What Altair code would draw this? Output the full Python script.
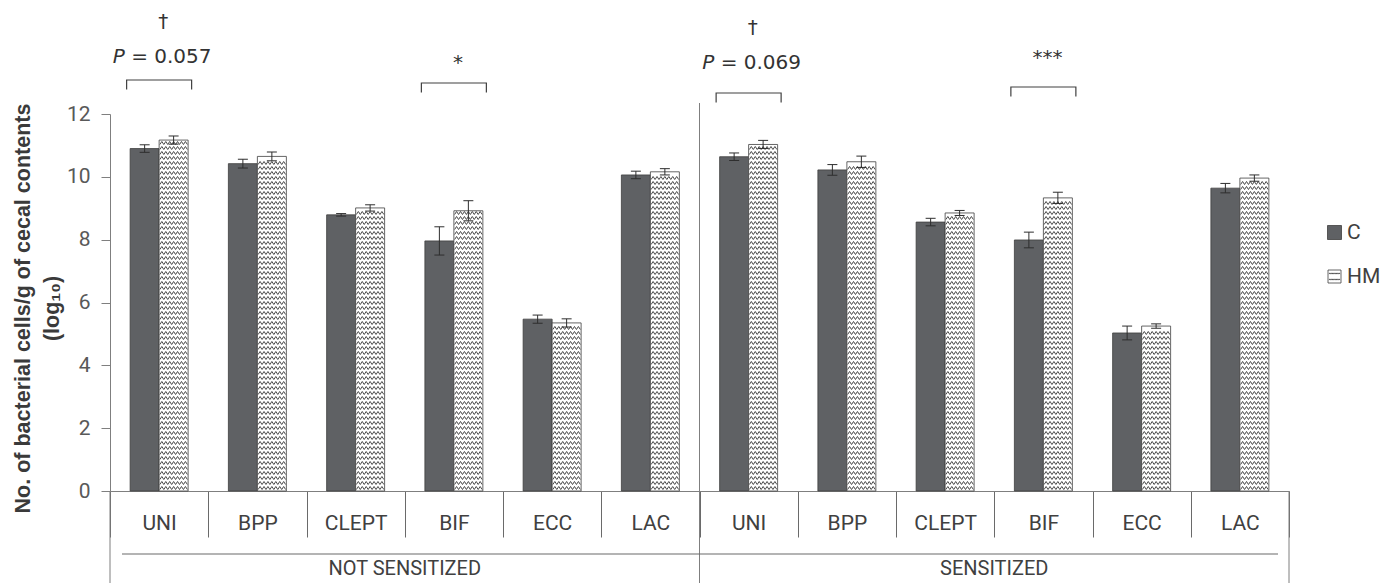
import altair as alt
import pandas as pd

# ---------------- data ----------------
groups = ["NOT SENSITIZED", "SENSITIZED"]
group_codes = ["NS", "S"]
bacteria = ["UNI", "BPP", "CLEPT", "BIF", "ECC", "LAC"]
series = ["C", "HM"]

c_ns = [10.90, 10.42, 8.79, 7.96, 5.47, 10.06]
hm_ns = [11.17, 10.65, 9.01, 8.92, 5.35, 10.16]
c_s = [10.64, 10.22, 8.56, 7.99, 5.03, 9.64]
hm_s = [11.03, 10.48, 8.85, 9.33, 5.25, 9.96]

c_ns_err = [0.12, 0.14, 0.04, 0.45, 0.13, 0.12]
hm_ns_err = [0.13, 0.14, 0.10, 0.32, 0.13, 0.10]
c_s_err = [0.12, 0.17, 0.12, 0.25, 0.22, 0.15]
hm_s_err = [0.13, 0.18, 0.08, 0.18, 0.07, 0.10]

y_ticks = [0, 2, 4, 6, 8, 10, 12]

ann_keys = ["NS|UNI", "NS|BIF", "S|UNI", "S|BIF"]
ann_symbols = ["†", "*", "†", "***"]
p_keys = ["NS|UNI", "S|UNI"]
p_texts = ["= 0.057", "= 0.069"]

y_title = ["No. of bacterial cells/g of cecal contents", "(log₁₀)"]

# ---------------- layout ----------------
W, H = 1179, 377
PAD_L, PAD_T, PAD_R, PAD_B = 110, 114, 106, 92
Y_MAX = 12
PX = H / Y_MAX
STEP = W / 12.0
BOTTOM = H + PAD_B  # bottom edge in plot coords


def px_to_val(y_abs):
    return (PAD_T + H - y_abs) / PX


# annotation layout (absolute pixel heights)
ann_sym_px = [22, 63, 28, 58]
p_px = [57, 63]
bracket_px = [80, 83, 93, 87]

C_FILL = "#5f6164"
LINE = "#7f7f7f"
DARK = "#2e2e2e"
FONT_C = "Roboto"
FONT_P = "DejaVu Sans"

keys = [f"{g}|{b}" for g in group_codes for b in bacteria]

vals = {
    ("NS", "C"): (c_ns, c_ns_err),
    ("NS", "HM"): (hm_ns, hm_ns_err),
    ("S", "C"): (c_s, c_s_err),
    ("S", "HM"): (hm_s, hm_s_err),
}
rows = []
for g in group_codes:
    for s in series:
        v, e = vals[(g, s)]
        for b, vv, ee in zip(bacteria, v, e):
            rows.append(dict(key=f"{g}|{b}", series=s, value=vv, lo=vv - ee, hi=vv + ee))
df = pd.DataFrame(rows)

caps = pd.concat([
    df.assign(cap=df["lo"]),
    df.assign(cap=df["hi"]),
], ignore_index=True)

# zigzag texture rows inside HM bars (decoration)
ZZ_STEP = 5.0 / PX
zz_rows = []
for r in rows:
    if r["series"] != "HM":
        continue
    y = ZZ_STEP * 0.6
    while y < r["value"] - ZZ_STEP * 0.4:
        zz_rows.append(dict(key=r["key"], series="HM", y=y))
        y += ZZ_STEP
zz = pd.DataFrame(zz_rows)

n_half = 14
amp = 0.11
pts = []
for i in range(n_half + 1):
    xx = -1 + i * 2.0 / n_half
    yy = amp if i % 2 == 0 else -amp
    pts.append(f"{xx:.4f},{yy:.4f}")
ZZ_PATH = "M" + "L".join(pts)
OFF_PAD = 0.694
BAR_W = STEP / (2 + 2 * OFF_PAD)

ann_df = pd.DataFrame(dict(key=ann_keys, sym=ann_symbols,
                           ys=[px_to_val(p) for p in ann_sym_px],
                           yb=[px_to_val(p) for p in bracket_px]))
p_df = pd.DataFrame(dict(key=p_keys, txt=p_texts, yp=[px_to_val(p) for p in p_px]))
grp_df = pd.DataFrame(dict(key=["NS|CLEPT", "S|CLEPT"], label=groups))

# ---------------- encodings ----------------
x_scale = alt.Scale(domain=keys, paddingInner=0, paddingOuter=0)
xo_scale = alt.Scale(domain=series, paddingInner=0, paddingOuter=OFF_PAD)
y_scale = alt.Scale(domain=[0, Y_MAX], nice=False, zero=True)

x_axis = alt.Axis(
    title=None, labelExpr="split(datum.label, '|')[1]", labelAngle=0,
    labelFont=FONT_C, labelFontSize=21, labelColor="#404040",
    labelBaseline="middle", labelPadding=-14, labelOverlap=False,
    tickBand="extent", tickSize=46, tickColor="#6a6a6a", domainColor=LINE,
)
y_axis = alt.Axis(
    values=y_ticks, grid=False, tickSize=9, tickColor=LINE, domainColor=LINE,
    labelFont=FONT_C, labelFontSize=21, labelColor="#595959", labelPadding=11,
    labelFlush=False, title=y_title, titleFont="Liberation Sans",
    titleFontSize=21.5, titleFontWeight="bold", titleColor="#3a3a3a",
    titleX=-87, titleY=194, titleAlign="center", titleBaseline="middle",
    titleLineHeight=29,
)


def X():
    return alt.X("key:N", scale=x_scale, sort=keys, axis=x_axis)


def XO():
    return alt.XOffset("series:N", scale=xo_scale, sort=series)


def Y(field):
    return alt.Y(f"{field}:Q", scale=y_scale, axis=y_axis)


bars = alt.Chart(df).mark_bar(stroke="#3f3f3f", strokeWidth=0.8).encode(
    x=X(), xOffset=XO(), y=Y("value"),
    fill=alt.Fill("series:N", scale=alt.Scale(domain=series, range=[C_FILL, "#ffffff"]), legend=None),
)

zig = alt.Chart(zz).mark_point(
    shape=ZZ_PATH, size=(BAR_W - 1.5) ** 2, filled=False, stroke="#4a4a4a",
    strokeWidth=1.0, opacity=1,
).encode(x=X(), xOffset=XO(), y=Y("y"))

err = alt.Chart(df).mark_rule(color=DARK, strokeWidth=1).encode(
    x=X(), xOffset=XO(), y=Y("lo"), y2="hi:Q",
)
cap = alt.Chart(caps).mark_point(
    shape="M-1,0L1,0", size=100, filled=False, stroke=DARK, strokeWidth=1, opacity=1,
).encode(x=X(), xOffset=XO(), y=Y("cap"))

bracket = alt.Chart(ann_df).mark_point(
    shape="M-1,0.29L-1,0L1,0L1,0.29", size=65 ** 2, filled=False,
    stroke="#404040", strokeWidth=1.2, opacity=1,
).encode(x=X(), y=Y("yb"))

sym = alt.Chart(ann_df).mark_text(
    font=FONT_P, fontSize=20, color="#333333", baseline="middle", dx=4,
).encode(x=X(), y=Y("ys"), text="sym:N")

p_italic = alt.Chart(p_df).mark_text(
    font=FONT_P, fontSize=20, fontStyle="italic", color="#333333",
    baseline="middle", align="left", dx=3 - 49.4,
).encode(x=X(), y=Y("yp"), text=alt.value("P"))

p_rest = alt.Chart(p_df).mark_text(
    font=FONT_P, fontSize=20, color="#333333",
    baseline="middle", align="right", dx=3 + 49.4,
).encode(x=X(), y=Y("yp"), text="txt:N")

grp = alt.Chart(grp_df).mark_text(
    font=FONT_C, fontSize=20, color="#404040", baseline="middle", dx=STEP / 2,
).encode(x=X(), y=alt.value(455), text="label:N")

one = pd.DataFrame({"d": [0]})
left_ext = alt.Chart(one).mark_rule(color=LINE, strokeWidth=1).encode(
    x=alt.value(0), y=alt.value(H), y2=alt.value(BOTTOM))
sep = alt.Chart(one).mark_rule(color=LINE, strokeWidth=1).encode(
    x=alt.value(6 * STEP), y=alt.value(103 - PAD_T), y2=alt.value(BOTTOM))
right_ext = alt.Chart(one).mark_rule(color=LINE, strokeWidth=1).encode(
    x=alt.value(W), y=alt.value(H), y2=alt.value(BOTTOM))
hline = alt.Chart(one).mark_rule(color="#6a6a6a", strokeWidth=1.2).encode(
    x=alt.value(12), x2=alt.value(1168), y=alt.value(440))

# legend (manual)
leg_c = alt.Chart(one).mark_square(size=14 ** 2, fill=C_FILL, stroke="#3f3f3f",
                                   strokeWidth=0.8, opacity=1).encode(
    x=alt.value(1224.5), y=alt.value(118.5))
leg_hm = alt.Chart(one).mark_square(size=13 ** 2, fill="#ffffff", stroke="#3f3f3f",
                                    strokeWidth=0.8, opacity=1).encode(
    x=alt.value(1224.5), y=alt.value(162.5))
leg_zz1 = alt.Chart(one).mark_point(shape=ZZ_PATH, size=11 ** 2, filled=False,
                                    stroke="#4a4a4a", strokeWidth=0.9, opacity=1).encode(
    x=alt.value(1224.5), y=alt.value(159.5))
leg_zz2 = alt.Chart(one).mark_point(shape=ZZ_PATH, size=11 ** 2, filled=False,
                                    stroke="#4a4a4a", strokeWidth=0.9, opacity=1).encode(
    x=alt.value(1224.5), y=alt.value(165.5))
leg_t1 = alt.Chart(pd.DataFrame({"t": ["C"]})).mark_text(
    font=FONT_C, fontSize=21, color="#404040", align="left", baseline="middle").encode(
    x=alt.value(1237), y=alt.value(119), text="t:N")
leg_t2 = alt.Chart(pd.DataFrame({"t": ["HM"]})).mark_text(
    font=FONT_C, fontSize=21, color="#404040", align="left", baseline="middle").encode(
    x=alt.value(1237), y=alt.value(163), text="t:N")

chart = alt.layer(
    bars, zig, err, cap, bracket, sym, p_italic, p_rest, grp,
    left_ext, sep, right_ext, hline,
    leg_c, leg_hm, leg_zz1, leg_zz2, leg_t1, leg_t2,
).properties(
    width=W, height=H,
    padding={"left": PAD_L, "top": PAD_T, "right": PAD_R, "bottom": PAD_B},
    autosize=alt.AutoSizeParams(type="none"),
    background="white",
).configure_view(stroke=None)

chart.save("out.html", embed_options={"renderer": "svg", "actions": False})
